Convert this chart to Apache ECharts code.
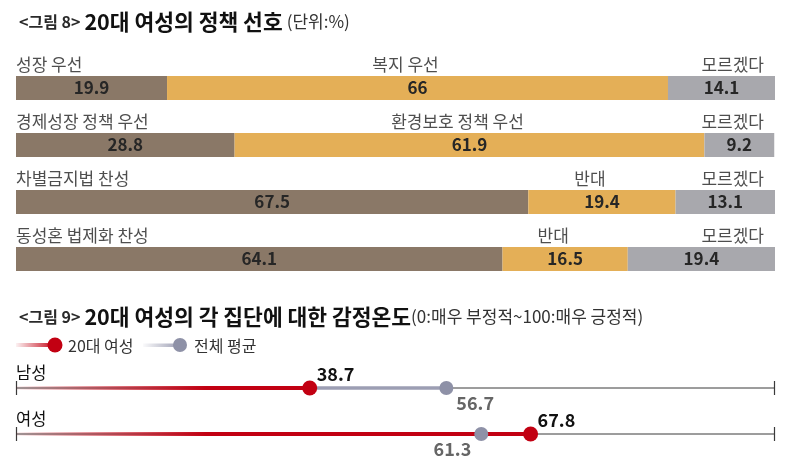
<!DOCTYPE html>
<html>
<head>
<meta charset="utf-8">
<script src="https://cdn.jsdelivr.net/npm/echarts@6/dist/echarts.min.js"></script>
<style>
html,body{margin:0;padding:0;background:#fff;}
#c{width:800px;height:457px;}
</style>
</head>
<body>
<div id="c"></div>
<script>
// ---- Figure 8 data ----
const policyRows = ['성장/복지', '경제성장/환경보호', '차별금지법', '동성혼 법제화'];
const leftNames = ['성장 우선', '경제성장 정책 우선', '차별금지법 찬성', '동성혼 법제화 찬성'];
const midNames = ['복지 우선', '환경보호 정책 우선', '반대', '반대'];
const rightNames = ['모르겠다', '모르겠다', '모르겠다', '모르겠다'];
const leftVals = [19.9, 28.8, 67.5, 64.1];
const midVals = [66, 61.9, 19.4, 16.5];
const rightVals = [14.1, 9.2, 13.1, 19.4];

// ---- Figure 9 data ----
const groups = ['남성', '여성'];
const women20s = [38.7, 67.8];
const overallAvg = [56.7, 61.3];

const FONT = '"Noto Sans CJK KR", "Noto Sans", sans-serif';
const BROWN = '#8A7867', GOLD = '#E4AF57', GREY = '#A8A8AD';
const RED = '#C20012', DOT_GREY = '#8E91A7', LINE_GREY = '#9C9EB3';

const chart = echarts.init(document.getElementById('c'));

function segLabel() {
  return {
    show: true, position: 'inside', color: '#262626', fontSize: 17, fontWeight: 'bold', fontFamily: FONT,
    formatter: p => String(p.value)
  };
}

function nameSeries(points, names, align, dx) {
  return {
    type: 'scatter', xAxisIndex: 0, yAxisIndex: 0, silent: true,
    symbolSize: 1, itemStyle: { color: 'rgba(0,0,0,0)' },
    data: points.map((x, i) => ({ value: [x, i], name: names[i] })),
    label: {
      show: true, position: 'inside', align: align, verticalAlign: 'middle',
      offset: [dx, -23], color: '#222', fontSize: 17, fontFamily: FONT,
      formatter: p => p.name
    },
    z: 5
  };
}

function titleRich() {
  return {
    a: { fontSize: 16, fontWeight: 'bold', color: '#2a2a2a', fontFamily: FONT },
    b: { fontSize: 21.5, fontWeight: 'bold', color: '#111', fontFamily: FONT },
    c: { fontSize: 17, fontWeight: 'normal', color: '#333', fontFamily: FONT }
  };
}

const option = {
  backgroundColor: '#fff',
  animation: false,
  title: [
    {
      left: 14, top: 6,
      text: '{a|<그림 8>} {b|20대 여성의 정책 선호} {c|(단위:%)}',
      textStyle: { fontFamily: FONT, fontWeight: 'normal', rich: titleRich() }
    },
    {
      left: 14, top: 301,
      text: '{a|<그림 9>} {b|20대 여성의 각 집단에 대한 감정온도}{c|(0:매우 부정적~100:매우 긍정적)}',
      textStyle: { fontFamily: FONT, fontWeight: 'normal', rich: titleRich() }
    }
  ],
  grid: [
    { left: 16, right: 25, top: 59.5, height: 228 },
    { left: 16, right: 25, top: 365, height: 92 }
  ],
  xAxis: [
    { type: 'value', gridIndex: 0, min: 0, max: 100, show: false },
    { type: 'value', gridIndex: 1, min: 0, max: 100, show: false }
  ],
  yAxis: [
    { type: 'category', gridIndex: 0, data: policyRows, inverse: true, show: false },
    { type: 'category', gridIndex: 1, data: groups, inverse: true, show: false }
  ],
  graphic: [
    {
      type: 'rect', shape: { x: 16, y: 343, width: 40, height: 4 },
      style: { fill: new echarts.graphic.LinearGradient(0, 0, 1, 0, [
        { offset: 0, color: 'rgba(194,0,18,0.05)' }, { offset: 1, color: RED }]) }
    },
    { type: 'circle', shape: { cx: 55, cy: 345, r: 7.5 }, style: { fill: RED } },
    { type: 'text', x: 68, y: 346, style: { text: '20대 여성', fill: '#333', fontSize: 16, fontFamily: FONT, verticalAlign: 'middle' } },
    {
      type: 'rect', shape: { x: 143, y: 343.5, width: 37, height: 3.5 },
      style: { fill: new echarts.graphic.LinearGradient(0, 0, 1, 0, [
        { offset: 0, color: 'rgba(156,158,179,0.05)' }, { offset: 1, color: LINE_GREY }]) }
    },
    { type: 'circle', shape: { cx: 180, cy: 345, r: 7 }, style: { fill: DOT_GREY } },
    { type: 'text', x: 194, y: 346, style: { text: '전체 평균', fill: '#333', fontSize: 16, fontFamily: FONT, verticalAlign: 'middle' } }
  ],
  series: [
    { type: 'bar', stack: 'p', xAxisIndex: 0, yAxisIndex: 0, barWidth: 24, data: leftVals, itemStyle: { color: BROWN }, label: segLabel(), silent: true },
    { type: 'bar', stack: 'p', xAxisIndex: 0, yAxisIndex: 0, barWidth: 24, data: midVals, itemStyle: { color: GOLD }, label: segLabel(), silent: true },
    { type: 'bar', stack: 'p', xAxisIndex: 0, yAxisIndex: 0, barWidth: 24, data: rightVals, itemStyle: { color: GREY }, label: segLabel(), silent: true },
    nameSeries(leftVals.map(() => 0), leftNames, 'left', 0),
    nameSeries(leftVals.map((v, i) => v + midVals[i] / 2), midNames, 'center', -12),
    nameSeries(leftVals.map(() => 100), rightNames, 'right', -11),
    {
      type: 'custom', xAxisIndex: 1, yAxisIndex: 1, silent: true,
      encode: { x: [1, 2], y: 0 },
      data: groups.map((g, i) => [i, women20s[i], overallAvg[i]]),
      renderItem: function (params, api) {
        const row = api.value(0), r = api.value(1), g = api.value(2);
        const p0 = api.coord([0, row]), p100 = api.coord([100, row]);
        const pr = api.coord([r, row]), pg = api.coord([g, row]);
        const y = p0[1];
        const ch = [];
        ch.push({ type: 'line', shape: { x1: p0[0], y1: y, x2: p100[0], y2: y }, style: { stroke: '#3a3a3a', lineWidth: 1 } });
        ch.push({ type: 'line', shape: { x1: p0[0] + 0.5, y1: y - 7, x2: p0[0] + 0.5, y2: y + 7 }, style: { stroke: '#3a3a3a', lineWidth: 1.2 } });
        ch.push({ type: 'line', shape: { x1: p100[0] - 0.5, y1: y - 7, x2: p100[0] - 0.5, y2: y + 7 }, style: { stroke: '#3a3a3a', lineWidth: 1.2 } });
        if (g > r) {
          ch.push({ type: 'rect', shape: { x: pr[0], y: y - 1.75, width: pg[0] - pr[0], height: 3.5 }, style: { fill: LINE_GREY } });
        }
        ch.push({
          type: 'rect', shape: { x: p0[0], y: y - 2, width: pr[0] - p0[0], height: 4 },
          style: { fill: new echarts.graphic.LinearGradient(p0[0], 0, p0[0] + 190, 0, [
            { offset: 0, color: 'rgba(194,0,18,0.05)' }, { offset: 1, color: RED }], true) }
        });
        ch.push({ type: 'circle', shape: { cx: pg[0], cy: y, r: 7 }, style: { fill: DOT_GREY } });
        ch.push({ type: 'circle', shape: { cx: pr[0], cy: y, r: 7.5 }, style: { fill: RED } });
        ch.push({ type: 'text', x: p0[0], y: y - 15, style: { text: groups[row], fill: '#111', fontSize: 16.5, fontFamily: FONT, align: 'left', verticalAlign: 'middle' } });
        ch.push({ type: 'text', x: pr[0] + 7, y: y - 14, style: { text: String(r), fill: '#111', fontSize: 18, fontWeight: 'bold', fontFamily: FONT, align: 'left', verticalAlign: 'middle' } });
        if (g > r) {
          ch.push({ type: 'text', x: pg[0] + 10, y: y + 15, style: { text: String(g), fill: '#666', fontSize: 18, fontWeight: 'bold', fontFamily: FONT, align: 'left', verticalAlign: 'middle' } });
        } else {
          ch.push({ type: 'text', x: pg[0] - 10, y: y + 15, style: { text: String(g), fill: '#666', fontSize: 18, fontWeight: 'bold', fontFamily: FONT, align: 'right', verticalAlign: 'middle' } });
        }
        return { type: 'group', children: ch };
      }
    }
  ]
};
chart.setOption(option);
</script>
</body>
</html>
